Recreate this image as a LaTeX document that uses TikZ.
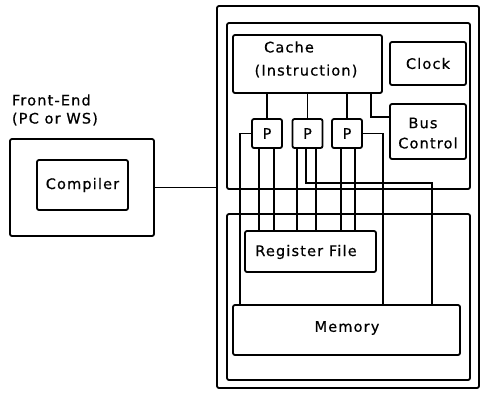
\documentclass[tikz,border=0pt]{standalone}
\usepackage{fontspec}
\setmainfont{DejaVu Sans}[LetterSpace=8,FakeBold=0.6]
\begin{document}
\begin{tikzpicture}[x=1pt,y=-1pt,
  every node/.style={inner sep=0pt, outer sep=0pt},
  box/.style={draw, line width=1.8pt, rounded corners=2pt},
  lbl/.style={font=\fontsize{14.5}{17}\selectfont},
  wire/.style={line width=1.8pt}]
\useasboundingbox (0,0) rectangle (482,394);

% front-end machine
\node[box, minimum width=144pt, minimum height=97pt] (fe) at (82,187.5) {};
\node[box, minimum width=91pt, minimum height=50pt] (comp) at (82.5,185) {};
\node[lbl] (comptxt) at (comp.center) {Compiler};
\node[lbl, anchor=west] (fetxt1) at (12,100) {Front-End};
\node[lbl, anchor=west] (fetxt2) at (12,119) {(PC or WS)};

% back-end enclosure and its two halves
\node[box, minimum width=262pt, minimum height=382pt] (outer) at (348,197) {};
\node[box, minimum width=243pt, minimum height=166pt] (upper) at (348.5,106) {};
\node[box, minimum width=243pt, minimum height=166pt] (lower) at (348.5,297) {};

% upper half
\node[box, minimum width=149pt, minimum height=58pt] (cache) at (307.5,64) {};
\node[lbl] (cachetxt1) at (289,47) {Cache};
\node[lbl] (cachetxt2) at (306,71) {(Instruction)};
\node[box, minimum width=76pt, minimum height=43pt] (clock) at (428,63.5) {};
\node[lbl] (clocktxt) at (clock.center) {Clock};
\node[box, minimum width=76pt, minimum height=55pt] (bus) at (428,131.5) {};
\node[lbl] (bustxt1) at (423,123) {Bus};
\node[lbl] (bustxt2) at (428,143) {Control};

\node[box, minimum width=30pt, minimum height=29pt, lbl] (p1) at (267,133.5) {P};
\node[box, minimum width=30pt, minimum height=29pt, lbl] (p2) at (307.5,133.5) {P};
\node[box, minimum width=30pt, minimum height=29pt, lbl] (p3) at (347,133.5) {P};

% lower half
\node[box, minimum width=131pt, minimum height=41pt] (reg) at (310.5,251.5) {};
\node[lbl] (regtxt) at (306,252) {Register File};
\node[box, minimum width=227pt, minimum height=50pt] (mem) at (346.5,330) {};
\node[lbl] (memtxt) at (347,328) {Memory};

% bend points of the wiring
\coordinate (wl) at (240,0);
\coordinate (wr) at (383,0);
\coordinate (bend) at (432,183);
\coordinate (bx) at (371,117);

% link to the front end
\draw[wire] (fe.east) -- (fe.east -| outer.west);

% cache to processors and bus control
\draw[wire] (p1.north |- cache.south) -- (p1.north);
\draw[wire] (p2.north |- cache.south) -- (p2.north);
\draw[wire] (p3.north |- cache.south) -- (p3.north);
\draw[wire] (bx |- cache.south) |- (bus.west |- bx);

% processors to register file
\draw[wire] ([xshift=-8pt]p1.south) -- ([xshift=-8pt]p1.south |- reg.north);
\draw[wire] ([xshift=7pt]p1.south) -- ([xshift=7pt]p1.south |- reg.north);
\draw[wire] ([xshift=-10.5pt]p2.south) -- ([xshift=-10.5pt]p2.south |- reg.north);
\draw[wire] ([xshift=8.5pt]p2.south) -- ([xshift=8.5pt]p2.south |- reg.north);
\draw[wire] ([xshift=-6pt]p3.south) -- ([xshift=-6pt]p3.south |- reg.north);
\draw[wire] ([xshift=8pt]p3.south) -- ([xshift=8pt]p3.south |- reg.north);

% processors to memory
\draw[wire] (p1.west) -| (wl |- mem.north);
\draw[wire] ([xshift=-1.5pt]p2.south) |- (bend) -- (bend |- mem.north);
\draw[wire] (p3.east) -| (wr |- mem.north);
\end{tikzpicture}
\end{document}
